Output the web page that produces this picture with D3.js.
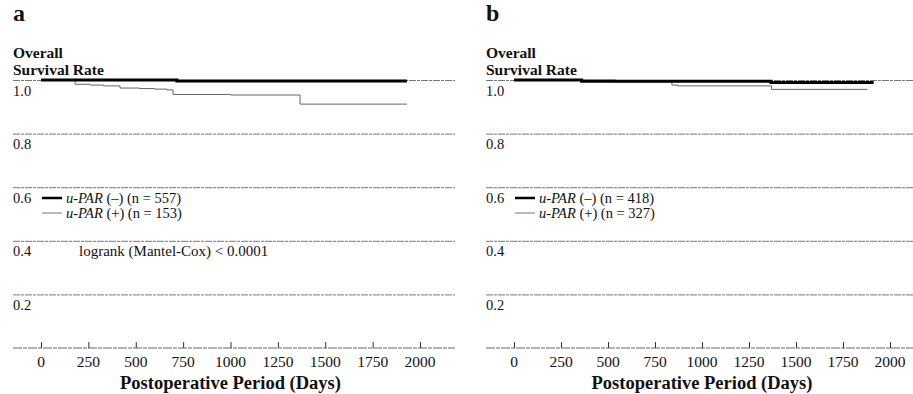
<!DOCTYPE html>
<html>
<head>
<meta charset="utf-8">
<script src="https://cdn.jsdelivr.net/npm/d3@7"></script>
<style>
  body { margin: 0; background: #fff; }
  text { font-family: "Liberation Serif", "DejaVu Serif", serif; fill: #111; }
</style>
</head>
<body>
<div id="chart"></div>
<script>
// axis ticks
var dayTicks = [0, 250, 500, 750, 1000, 1250, 1500, 1750, 2000];
var rateTicks = [0.2, 0.4, 0.6, 0.8, 1.0];

// panel a : step curves (day, survival)
var aNegDays = [0, 717, 1931];
var aNegSurv = [1.0, 0.996, 0.996];
var aPosDays = [0, 180, 260, 330, 417, 520, 600, 665, 697, 1000, 1367, 1931];
var aPosSurv = [1.0, 0.984, 0.981, 0.978, 0.970, 0.968, 0.966, 0.963, 0.946, 0.944, 0.910, 0.910];

// panel b
var bNegDays = [0, 360, 1367, 1913];
var bNegSurv = [1.0, 0.995, 0.991, 0.991];
var bPosDays = [0, 540, 840, 870, 1370, 1880];
var bPosSurv = [1.0, 0.993, 0.981, 0.978, 0.965, 0.965];

var legendA = ['(n = 557)', '(n = 153)'];
var legendB = ['(n = 418)', '(n = 327)'];

var W = 913, H = 394;
var svg = d3.select('#chart').append('svg')
  .attr('width', W).attr('height', H);

function pairs(days, surv) {
  return days.map(function(d, i) { return {t: d, s: surv[i]}; });
}

function drawPanel(p) {
  var x = d3.scaleLinear().domain([0, 2000]).range([p.x0, p.x1]);
  var y = d3.scaleLinear().domain([0, 1]).range([348, 80]);
  var g = svg.append('g');

  // panel letter + y title
  g.append('text').attr('x', p.left).attr('y', 21)
    .style('font-size', '24px').style('font-weight', 'bold').text(p.letter);
  g.append('text').attr('x', p.left).attr('y', 58)
    .style('font-size', '15.5px').style('font-weight', 'bold').text('Overall');
  g.append('text').attr('x', p.left).attr('y', 75)
    .style('font-size', '15.5px').style('font-weight', 'bold').text('Survival Rate');

  // horizontal grid lines with labels below
  var grid = d3.axisLeft(y).tickValues(rateTicks).tickFormat(d3.format('.1f'))
    .tickSize(-(p.right - p.left));
  var ga = g.append('g').attr('transform', 'translate(' + p.left + ',0)').call(grid);
  ga.select('.domain').remove();
  ga.selectAll('line').attr('stroke', '#777').attr('stroke-width', 1)
    .attr('stroke-dasharray', '7,1,3,1');
  ga.selectAll('text').attr('x', 0).attr('dy', 15).attr('text-anchor', 'start')
    .style('font-size', '14.5px').style('fill', '#111').style('font-family', '"Liberation Serif", serif');

  // x axis baseline
  g.append('line').attr('x1', p.left).attr('x2', p.right)
    .attr('y1', y(0)).attr('y2', y(0))
    .attr('stroke', '#666').attr('stroke-dasharray', '9,1,4,1');
  var xa = d3.axisTop(x).tickValues(dayTicks).tickSize(6).tickFormat('');
  var gx = g.append('g').attr('transform', 'translate(0,' + y(0) + ')').call(xa);
  gx.select('.domain').remove();
  gx.selectAll('line').attr('stroke', '#333');
  g.selectAll('.xl').data(dayTicks).enter().append('text')
    .attr('x', function(d) { return x(d); }).attr('y', 367)
    .attr('text-anchor', 'middle').style('font-size', '15.5px')
    .text(function(d) { return d; });
  g.append('text').attr('x', (x(0) + x(2000)) / 2).attr('y', 389)
    .attr('text-anchor', 'middle').style('font-size', '18.5px').style('font-weight', 'bold')
    .text('Postoperative Period (Days)');

  // survival curves
  var line = d3.line().curve(d3.curveStepAfter)
    .x(function(d) { return x(d.t); }).y(function(d) { return y(d.s); });
  g.append('path').datum(pairs(p.posDays, p.posSurv)).attr('d', line)
    .attr('fill', 'none').attr('stroke', '#666').attr('stroke-width', 1);
  g.append('path').datum(pairs(p.negDays, p.negSurv)).attr('d', line)
    .attr('fill', 'none').attr('stroke', '#000').attr('stroke-width', 3);

  // legend
  var rows = [{w: 2.5, c: '#000', sign: '(\u2013)', n: p.legend[0]},
              {w: 1, c: '#777', sign: '(+)', n: p.legend[1]}];
  rows.forEach(function(r, i) {
    var ly = 198 + i * 15;
    g.append('line').attr('x1', p.legX).attr('x2', p.legX + 20)
      .attr('y1', ly).attr('y2', ly).attr('stroke', r.c).attr('stroke-width', r.w);
    var t = g.append('text').attr('x', p.legX + 24).attr('y', ly + 5).style('font-size', '14.5px');
    t.append('tspan').style('font-style', 'italic').text('u-PAR');
    t.append('tspan').text(' ' + r.sign + ' ' + r.n);
  });
  if (p.note) {
    g.append('text').attr('x', p.left + 66).attr('y', 256).style('font-size', '15px').text(p.note);
  }
}

drawPanel({letter: 'a', left: 13, right: 455, x0: 41, x1: 420, legX: 42,
  negDays: aNegDays, negSurv: aNegSurv, posDays: aPosDays, posSurv: aPosSurv,
  legend: legendA, note: 'logrank (Mantel-Cox) < 0.0001'});
drawPanel({letter: 'b', left: 486, right: 913, x0: 514, x1: 890, legX: 515,
  negDays: bNegDays, negSurv: bNegSurv, posDays: bPosDays, posSurv: bPosSurv,
  legend: legendB});
</script>
</body>
</html>
